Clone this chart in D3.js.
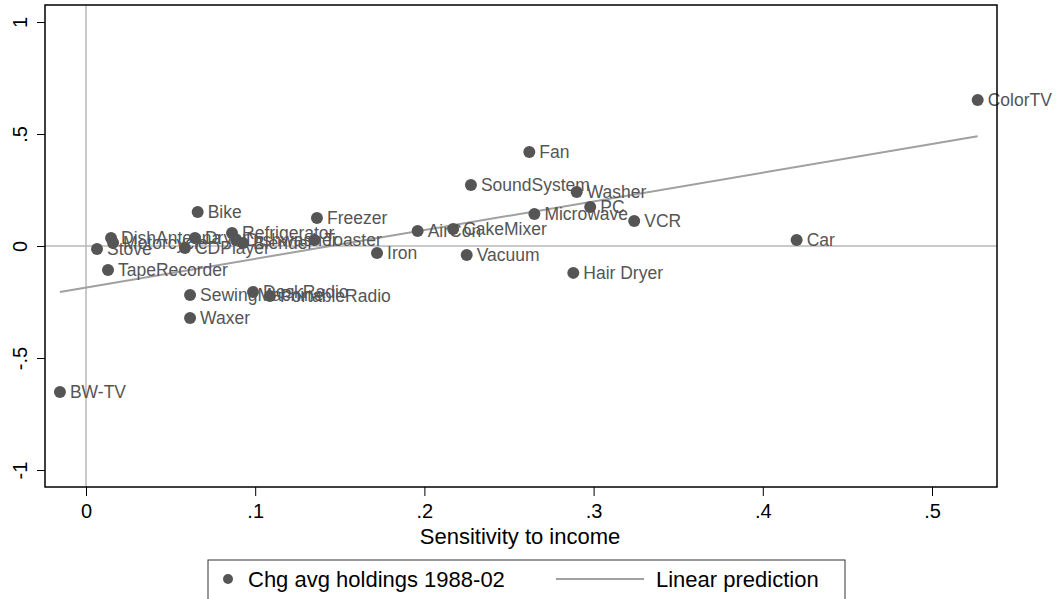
<!DOCTYPE html>
<html>
<head>
<meta charset="utf-8">
<script src="https://cdn.jsdelivr.net/npm/d3@7"></script>
<style>
  body { margin: 0; background: #fff; }
  text { font-family: "Liberation Sans", Arial, sans-serif; }
</style>
</head>
<body>
<div id="chart"></div>
<script>
// goods and their (sensitivity to income, change in avg holdings)
const goods = ["ColorTV", "Fan", "SoundSystem", "Washer", "PC", "Microwave", "VCR", "Car",
  "AirCon", "CakeMixer", "Iron", "Vacuum", "Hair Dryer", "Freezer", "Bike", "Refrigerator",
  "DishAntenna", "Motorcycle", "Stove", "CDPlayer", "Dryer", "Dishwasher", "Blender", "Toaster",
  "TapeRecorder", "SewingMachine", "DeskRadio", "PortableRadio", "Waxer", "BW-TV"]
const sensitivity = [0.527, 0.262, 0.2275, 0.290, 0.298, 0.265, 0.324, 0.420,
  0.196, 0.217, 0.172, 0.225, 0.288, 0.1365, 0.066, 0.0863,
  0.0148, 0.016, 0.0065, 0.0585, 0.0644, 0.0887, 0.0928, 0.135,
  0.013, 0.0615, 0.0987, 0.1087, 0.0615, -0.0154]
const holdings = [0.652, 0.420, 0.272, 0.241, 0.174, 0.143, 0.112, 0.027,
  0.067, 0.076, -0.031, -0.040, -0.120, 0.125, 0.152, 0.058,
  0.036, 0.014, -0.013, -0.009, 0.036, 0.027, 0.013, 0.027,
  -0.107, -0.219, -0.205, -0.223, -0.321, -0.652]
// fitted line end points
const fitX = [-0.0154, 0.527]
const fitY = [-0.205, 0.49]
const xTicks = [0, 0.1, 0.2, 0.3, 0.4, 0.5]
const yTicks = [-1, -0.5, 0, 0.5, 1]

let W = 1056, H = 599
let P = {L: 45, R: 997, T: 5, B: 487}

let svg = d3.select("#chart").append("svg")
    .attr("width", W)
    .attr("height", H)

let x = d3.scaleLinear().domain([0, 0.5]).range([86, 932])
let y = d3.scaleLinear().domain([-1, 1]).range([470, 22])

// stata style: .5 instead of 0.5
let fmt = d => String(d).replace("0.", ".")

// reference lines at zero
svg.append("line")
    .attr("x1", P.L).attr("x2", P.R)
    .attr("y1", y(0)).attr("y2", y(0))
    .attr("stroke", "#b8b8b8").attr("stroke-width", 1.5)
svg.append("line")
    .attr("x1", x(0)).attr("x2", x(0))
    .attr("y1", P.T).attr("y2", P.B)
    .attr("stroke", "#b8b8b8").attr("stroke-width", 1.5)

// linear prediction
svg.append("line")
    .attr("x1", x(fitX[0])).attr("x2", x(fitX[1]))
    .attr("y1", y(fitY[0])).attr("y2", y(fitY[1]))
    .attr("stroke", "#a0a0a0").attr("stroke-width", 2)

let pts = goods.map((g, i) => ({name: g, sx: sensitivity[i], hy: holdings[i]}))

svg.selectAll("circle.pt")
    .data(pts)
    .enter().append("circle")
    .attr("class", "pt")
    .attr("cx", d => x(d.sx))
    .attr("cy", d => y(d.hy))
    .attr("r", 6)
    .attr("fill", "#555555")

svg.selectAll("text.lbl")
    .data(pts)
    .enter().append("text")
    .attr("class", "lbl")
    .attr("x", d => x(d.sx) + 10)
    .attr("y", d => y(d.hy) + 6)
    .attr("font-size", "17.5px")
    .attr("fill", "#555555")
    .text(d => d.name)

// frame
svg.append("rect")
    .attr("x", P.L).attr("y", P.T)
    .attr("width", P.R - P.L).attr("height", P.B - P.T)
    .attr("fill", "none").attr("stroke", "#000").attr("stroke-width", 1.5)

// x axis
let xAxis = svg.append("g")
    .attr("transform", `translate(0, ${P.B})`)
    .call(d3.axisBottom(x).tickValues(xTicks).tickFormat(fmt).tickSize(9).tickPadding(8))
xAxis.select(".domain").remove()
xAxis.selectAll("text").attr("font-size", "20px").attr("fill", "#000")
    .style("font-family", "Liberation Sans, Arial, sans-serif")

// y axis
let yAxis = svg.append("g")
    .attr("transform", `translate(${P.L}, 0)`)
    .call(d3.axisLeft(y).tickValues(yTicks).tickFormat(fmt).tickSize(8))
yAxis.select(".domain").remove()
yAxis.selectAll(".tick text")
    .attr("x", 0).attr("dy", 0)
    .attr("transform", "translate(-18, 0) rotate(-90)")
    .attr("text-anchor", "middle")
    .attr("font-size", "20px").attr("fill", "#000")
    .style("font-family", "Liberation Sans, Arial, sans-serif")

svg.append("text")
    .attr("x", 520)
    .attr("y", 544)
    .attr("text-anchor", "middle")
    .attr("font-size", "22px")
    .text("Sensitivity to income")

// legend
let lg = svg.append("g")
lg.append("rect")
    .attr("x", 208).attr("y", 560)
    .attr("width", 637).attr("height", 50)
    .attr("fill", "#fff").attr("stroke", "#333").attr("stroke-width", 1)
lg.append("circle")
    .attr("cx", 228).attr("cy", 579).attr("r", 5)
    .attr("fill", "#555555")
lg.append("text")
    .attr("x", 248).attr("y", 587)
    .attr("font-size", "22px")
    .text("Chg avg holdings 1988-02")
lg.append("line")
    .attr("x1", 556).attr("x2", 644)
    .attr("y1", 579).attr("y2", 579)
    .attr("stroke", "#a0a0a0").attr("stroke-width", 2)
lg.append("text")
    .attr("x", 656).attr("y", 587)
    .attr("font-size", "22px")
    .text("Linear prediction")
</script>
</body>
</html>
